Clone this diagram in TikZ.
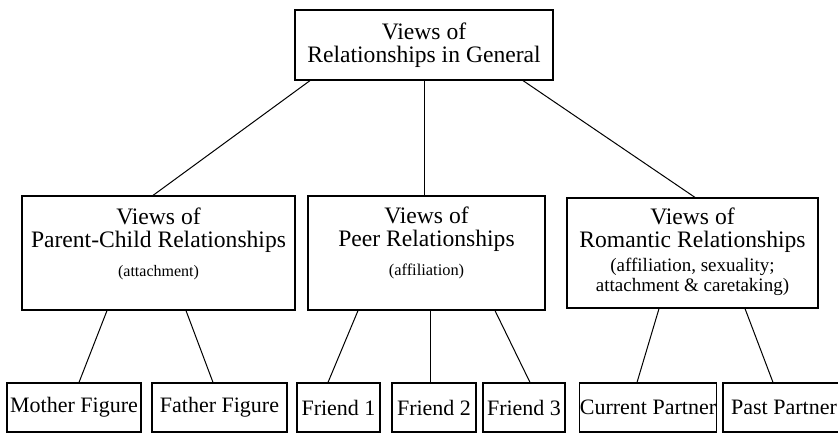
\documentclass[tikz,border=0pt]{standalone}
\usepackage{fontspec}
\setmainfont{Liberation Serif}
\usetikzlibrary{calc}

\begin{document}
\begin{tikzpicture}[x=0.5pt,y=-0.5pt,
        box/.style={draw,line width=0.6pt,inner sep=0pt,align=center,font=\fontsize{11.8}{11.5}\selectfont},
        leaf/.style={box,minimum height=24.5pt,font=\fontsize{11}{12}\selectfont},
        txt/.style={anchor=north,inner sep=0pt,align=center,font=\fontsize{11.8}{11.5}\selectfont},
        link/.style={line width=0.5pt}]
        \useasboundingbox (0,0) rectangle (838,434);
        \clip (0,0) rectangle (838,434);
        \node[box,minimum width=129pt,minimum height=35pt] (gen) at (424,45) {Views of\\Relationships in General};
        \node[box,minimum width=136.5pt,minimum height=57pt] (pc) at (158.5,253) {};
        \node[box,minimum width=118.5pt,minimum height=57pt] (peer) at (426.5,253) {};
        \node[box,minimum width=125.5pt,minimum height=55pt] (rom) at (692.5,253) {};
        \node[txt,yshift=-6pt] (pctxt) at (pc.north) {Views of\\Parent-Child Relationships\\[3pt]{\fontsize{8}{10}\selectfont(attachment)}};
        \node[txt,yshift=-5.5pt] (peertxt) at (peer.north) {Views of\\Peer Relationships\\[3pt]{\fontsize{8.2}{10}\selectfont(affiliation)}};
        \node[txt,yshift=-5pt] (romtxt) at (rom.north) {Views of\\Romantic Relationships\\[0.5pt]{\fontsize{9.5}{10}\selectfont\begin{tabular}[t]{@{}c@{}}(affiliation, sexuality;\\attachment \& caretaking)\end{tabular}}};
        \node[leaf,minimum width=67pt] (mother) at (74,407.5) {Mother Figure};
        \node[leaf,minimum width=67.5pt] (father) at (219.5,407.5) {Father Figure};
        \node[leaf,minimum width=41.5pt] (fr1) at (338.5,407.5) {Friend 1};
        \node[leaf,minimum width=42pt] (fr2) at (434,407.5) {Friend 2};
        \node[leaf,minimum width=41pt] (fr3) at (524,407.5) {Friend 3};
        \node[leaf,minimum width=68pt] (cur) at (648,407.5) {Current Partner};
        \node[leaf,minimum width=61pt] (past) at (784,407.5) {Past Partner};
        \draw[link] ([xshift=-57pt]gen.south) -- ([xshift=-2.75pt]pc.north);
        \draw[link] (gen.south) -- (gen.south |- peer.north);
        \draw[link] ([xshift=49.5pt]gen.south) -- ([xshift=1.25pt]rom.north);
        \draw[link] ([xshift=-25.75pt]pc.south) -- ([xshift=2.5pt]mother.north);
        \draw[link] ([xshift=13.75pt]pc.south) -- ([xshift=-3.25pt]father.north);
        \draw[link] ([xshift=-34.25pt]peer.south) -- ([xshift=-5.25pt]fr1.north);
        \draw[link] ([xshift=-2pt]fr2.north) -- ([xshift=-2pt]fr2.north |- peer.south);
        \draw[link] ([xshift=34.25pt]peer.south) -- ([xshift=3pt]fr3.north);
        \draw[link] ([xshift=-16.75pt]rom.south) -- ([xshift=-5.5pt]cur.north);
        \draw[link] ([xshift=26.25pt]rom.south) -- ([xshift=-5.5pt]past.north);
    \end{tikzpicture}
\end{document}
